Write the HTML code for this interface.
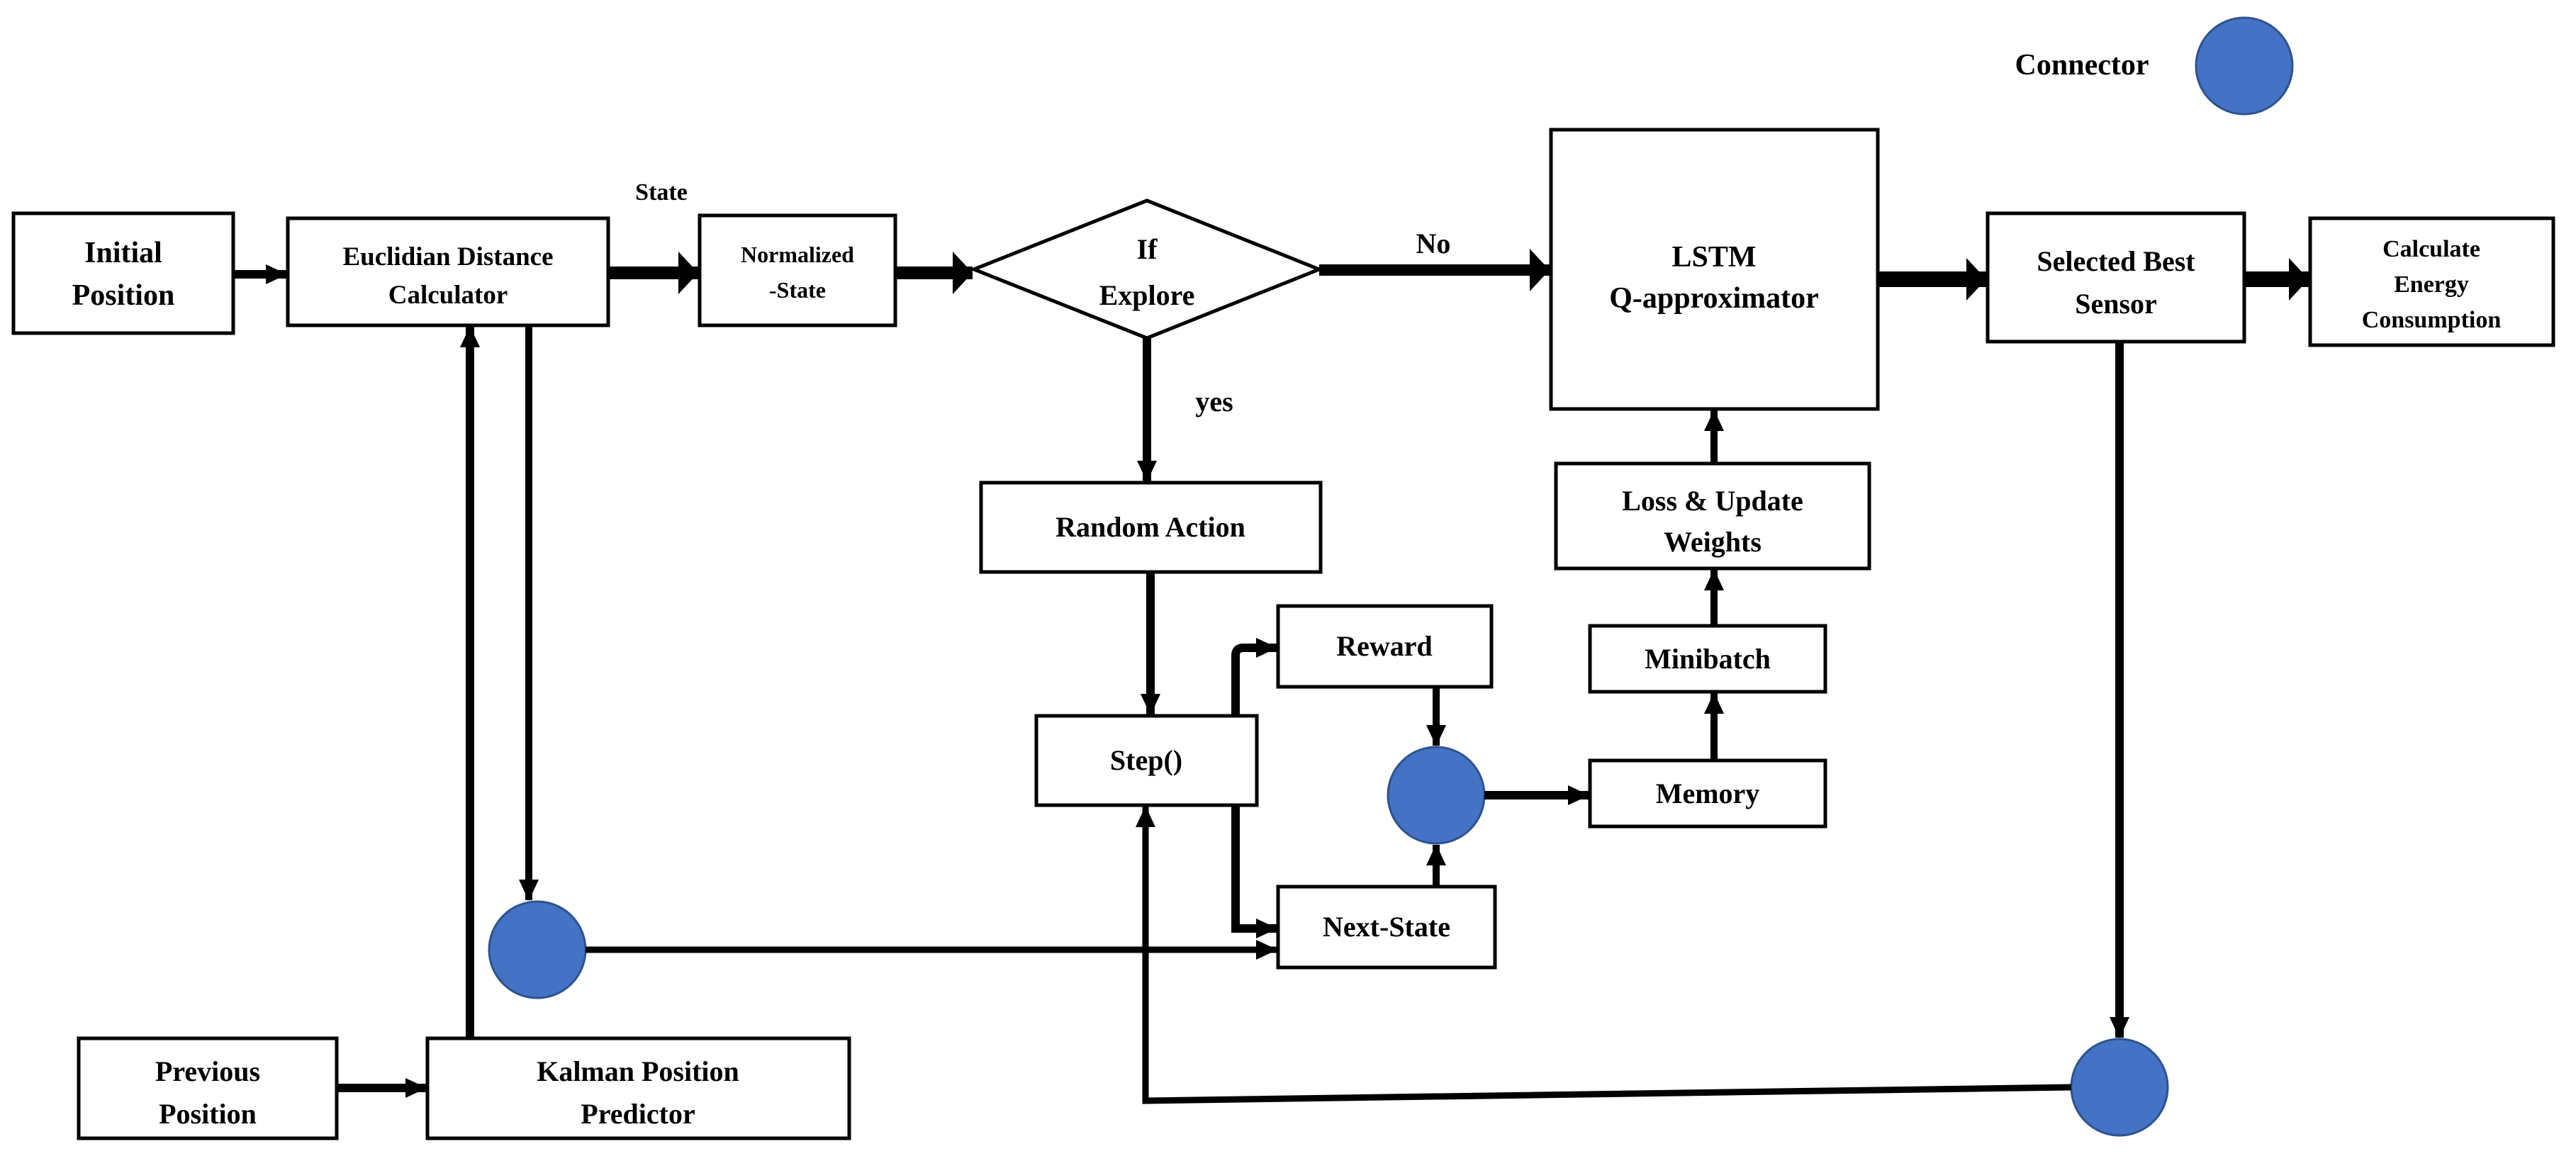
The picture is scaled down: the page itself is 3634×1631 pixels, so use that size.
<!DOCTYPE html>
<html><head><style>
html,body{margin:0;padding:0;background:#fff;}
svg{display:block;}
text{font-family:"Liberation Serif",serif;font-weight:bold;fill:#000;text-anchor:middle;}
</style></head><body>
<svg width="3634" height="1631" viewBox="0 0 3634 1631" xmlns="http://www.w3.org/2000/svg">
<defs>
<marker id="a" markerUnits="userSpaceOnUse" markerWidth="32" markerHeight="32" refX="29" refY="16" orient="auto">
<path d="M0,2 L30,16 L0,30 Z" fill="#000"/></marker>
<marker id="b" markerUnits="userSpaceOnUse" markerWidth="30" markerHeight="60" refX="28" refY="30" orient="auto">
<path d="M0,0 L28,30 L0,60 Z" fill="#000"/></marker>
</defs>
<g fill="#fff" stroke="#000" stroke-width="5">
<rect x="19" y="301" width="310" height="169"/>
<rect x="406" y="308" width="452" height="151"/>
<rect x="987" y="304" width="276" height="155"/>
<polygon points="1374,380 1618,283 1861,380 1618,477"/>
<rect x="2188" y="183" width="461" height="394"/>
<rect x="2804" y="301" width="362" height="181"/>
<rect x="3259" y="308" width="343" height="179"/>
<rect x="1384" y="681" width="479" height="126"/>
<rect x="1462" y="1010" width="311" height="126"/>
<rect x="1803" y="855" width="301" height="114"/>
<rect x="1803" y="1251" width="306" height="114"/>
<rect x="2243" y="1073" width="332" height="93"/>
<rect x="2243" y="883" width="332" height="93"/>
<rect x="2195" y="654" width="442" height="148"/>
<rect x="111" y="1465" width="364" height="141"/>
<rect x="603" y="1465" width="595" height="141"/>
</g>
<g fill="#4472C4" stroke="#2F528F" stroke-width="3">
<circle cx="3166" cy="93" r="68"/>
<circle cx="2026" cy="1122" r="68"/>
<circle cx="758" cy="1340" r="68"/>
<circle cx="2990" cy="1534" r="68"/>
</g>
<g stroke="#000" fill="none">
<line x1="329" y1="387" x2="404" y2="387" stroke-width="12" marker-end="url(#a)"/>
<line x1="858" y1="385" x2="985" y2="385" stroke-width="18" marker-end="url(#b)"/>
<line x1="1263" y1="385" x2="1372" y2="385" stroke-width="18" marker-end="url(#b)"/>
<line x1="1861" y1="381" x2="2186" y2="381" stroke-width="16" marker-end="url(#b)"/>
<line x1="2649" y1="394" x2="2802" y2="394" stroke-width="22" marker-end="url(#b)"/>
<line x1="3166" y1="394" x2="3257" y2="394" stroke-width="22" marker-end="url(#b)"/>
</g>
<g stroke="#000" fill="none" marker-end="url(#a)">
<line x1="1618" y1="477" x2="1618" y2="679" stroke-width="12"/>
<line x1="1623" y1="807" x2="1623" y2="1008" stroke-width="12"/>
<path d="M1743,1010 L1743,925 Q1743,914 1754,914 L1801,914" stroke-width="12"/>
<path d="M1743,1136 L1743,1310 L1801,1310" stroke-width="12"/>
<line x1="2026" y1="969" x2="2026" y2="1052" stroke-width="10"/>
<line x1="2026" y1="1251" x2="2026" y2="1192" stroke-width="10"/>
<line x1="2094" y1="1122" x2="2241" y2="1122" stroke-width="12"/>
<line x1="2418" y1="1073" x2="2418" y2="978" stroke-width="10"/>
<line x1="2418" y1="883" x2="2418" y2="804" stroke-width="10"/>
<line x1="2418" y1="654" x2="2418" y2="579" stroke-width="10"/>
<line x1="746" y1="459" x2="746" y2="1270" stroke-width="10"/>
<line x1="663" y1="1465" x2="663" y2="461" stroke-width="12"/>
<line x1="826" y1="1340" x2="1801" y2="1340" stroke-width="9"/>
<line x1="475" y1="1535" x2="601" y2="1535" stroke-width="12"/>
<line x1="2990" y1="482" x2="2990" y2="1464" stroke-width="12"/>
<path d="M2922,1534 L1616,1553 L1616,1138" stroke-width="9"/>
</g>
<text x="174" y="370" font-size="42">Initial</text>
<text x="174" y="430" font-size="42">Position</text>
<text x="632" y="374" font-size="37">Euclidian Distance</text>
<text x="632" y="428" font-size="37">Calculator</text>
<text x="1125" y="370" font-size="32">Normalized</text>
<text x="1125" y="420" font-size="32">-State</text>
<text x="1618" y="365" font-size="40">If</text>
<text x="1618" y="430" font-size="40">Explore</text>
<text x="2418" y="376" font-size="42">LSTM</text>
<text x="2418" y="434" font-size="42">Q-approximator</text>
<text x="2985" y="382" font-size="40">Selected Best</text>
<text x="2985" y="442" font-size="40">Sensor</text>
<text x="3430" y="362" font-size="34">Calculate</text>
<text x="3430" y="412" font-size="34">Energy</text>
<text x="3430" y="462" font-size="34">Consumption</text>
<text x="2937" y="105" font-size="42">Connector</text>
<text x="933" y="282" font-size="34">State</text>
<text x="2022" y="357" font-size="40">No</text>
<text x="1713" y="580" font-size="40">yes</text>
<text x="1623" y="757" font-size="40">Random Action</text>
<text x="1617" y="1086" font-size="40">Step()</text>
<text x="1953" y="925" font-size="40">Reward</text>
<text x="1956" y="1321" font-size="40">Next-State</text>
<text x="2409" y="1133" font-size="40">Memory</text>
<text x="2409" y="943" font-size="40">Minibatch</text>
<text x="2416" y="720" font-size="40">Loss &amp; Update</text>
<text x="2416" y="778" font-size="40">Weights</text>
<text x="293" y="1525" font-size="40">Previous</text>
<text x="293" y="1585" font-size="40">Position</text>
<text x="900" y="1525" font-size="40">Kalman Position</text>
<text x="900" y="1585" font-size="40">Predictor</text>
</svg>
</body></html>
